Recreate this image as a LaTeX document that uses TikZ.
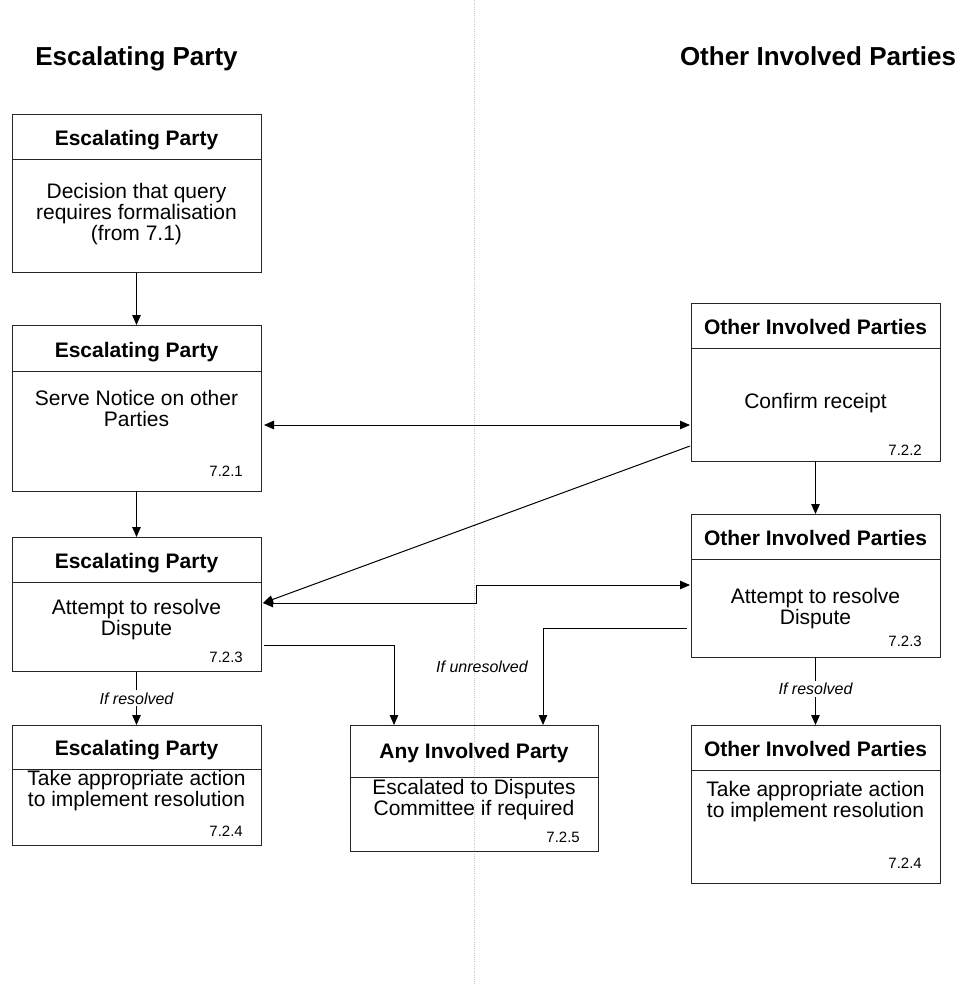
\documentclass[tikz,border=0pt]{standalone}
\usepackage{fontspec}
\setmainfont{Liberation Sans}
\usetikzlibrary{arrows.meta,calc}

\tikzset{
  boxframe/.style={draw=black!85, line width=1pt, inner sep=0pt, outer sep=0pt},
  ttl/.style={font=\bfseries\fontsize{21}{21}\selectfont, inner sep=0pt, anchor=base},
  body/.style={font=\fontsize{21}{21}\selectfont, align=center, inner sep=0pt},
  num/.style={font=\fontsize{15}{15}\selectfont, anchor=base east, inner sep=0pt},
  lbl/.style={font=\itshape\fontsize{16}{16}\selectfont, inner sep=2pt},
  hdr/.style={font=\bfseries\fontsize{26}{26}\selectfont, inner sep=0pt, anchor=base},
  conn/.style={line width=1pt, -{Triangle[length=10pt,width=8.5pt]}},
  biconn/.style={line width=1pt, {Triangle[length=10pt,width=8.5pt]}-{Triangle[length=10pt,width=8.5pt]}},
  divline/.style={draw=black!22, line width=0.8pt, dash pattern=on 1pt off 1.2pt},
}

% process box: name, left x, top y, bottom y, divider y, width
\newcommand\procbox[6]{%
  \node[boxframe, anchor=north west, minimum width=#6, minimum height={#4-#3}] (#1) at (#2,#3) {};
  \draw[boxframe] (#1.west |- 0,#5) -- (#1.east |- 0,#5);
}

\begin{document}
\begin{tikzpicture}[x=1pt, y=-1pt]
\useasboundingbox (0,0) rectangle (962,984);

% lane separator
\draw[divline] (474,0) -- (474,984);

% lane headings
\node[hdr] (hdrL) at (136.5,66) {Escalating Party};
\node[hdr] (hdrR) at (818,66) {Other Involved Parties};

% left lane
\procbox{A}{12}{115}{272.7}{160}{249}
\node[ttl] (A-t) at (136.5,146) {Escalating Party};
\node[body] (A-b) at (136.5,214) {Decision that query\\requires formalisation\\(from 7.1)};

\procbox{B}{12}{325}{491}{371}{249}
\node[ttl] (B-t) at (136.5,357) {Escalating Party};
\node[body] (B-b) at (136.5,408) {Serve Notice on other\\Parties};
\node[num] (B-n) at (243,476) {7.2.1};

\procbox{C}{12}{537}{671.7}{582}{249}
\node[ttl] (C-t) at (136.5,568) {Escalating Party};
\node[body] (C-b) at (136.5,620) {Attempt to resolve\\Dispute};
\node[num] (C-n) at (243,662) {7.2.3};

\procbox{D}{12}{725}{845}{769}{249}
\node[ttl] (D-t) at (136.5,755) {Escalating Party};
\node[body] (D-b) at (136.5,791) {Take appropriate action\\to implement resolution};
\node[num] (D-n) at (243,836) {7.2.4};

% middle
\procbox{E}{350}{725}{851}{777}{248}
\node[ttl] (E-t) at (474,758) {Any Involved Party};
\node[body] (E-b) at (474,800) {Escalated to Disputes\\Committee if required};
\node[num] (E-n) at (580,842) {7.2.5};

% right lane
\procbox{F}{691}{303}{461}{348}{249}
\node[ttl] (F-t) at (815.5,334) {Other Involved Parties};
\node[body] (F-b) at (815.5,403) {Confirm receipt};
\node[num] (F-n) at (922,455) {7.2.2};

\procbox{G}{691}{514}{657}{559}{249}
\node[ttl] (G-t) at (815.5,545) {Other Involved Parties};
\node[body] (G-b) at (815.5,609) {Attempt to resolve\\Dispute};
\node[num] (G-n) at (922,646) {7.2.3};

\procbox{H}{691}{725}{883}{770}{249}
\node[ttl] (H-t) at (815.5,756) {Other Involved Parties};
\node[body] (H-b) at (815.5,802) {Take appropriate action\\to implement resolution};
\node[num] (H-n) at (922,868) {7.2.4};

% flow
\draw[conn] (A.south) -- (B.north);
\draw[conn] (B.south) -- (C.north);
\draw[conn] (F.south) -- (G.north);
\draw[biconn] ($(B.north east |- 0,425)+(3,0)$) -- ($(F.north west |- 0,425)+(-1,0)$);
\draw[conn] ($(F.north west |- 0,446)+(-1,0)$) -- ($(C.north east |- 0,603)+(2,0)$);
\draw[biconn] ($(C.north east |- 0,603)+(2,0)$) -- (476,603) -- (476,585) -- ($(G.north west |- 0,585)+(-1,0)$);
\draw[conn] ($(C.north east |- 0,645)+(3,0)$) -| ($(E.north west)+(44,0)$);
\draw[conn] ($(G.north west |- 0,628)+(-4,0)$) -| ($(E.north west)+(193,0)$);
\node[lbl] (unres) at (482,667) {If unresolved};
\draw[conn] (C.south) -- node[lbl, fill=white] (res-L) {If resolved} (D.north);
\draw[conn] (G.south) -- node[lbl, fill=white, pos=0.47] (res-R) {If resolved} (H.north);
\end{tikzpicture}
\end{document}
